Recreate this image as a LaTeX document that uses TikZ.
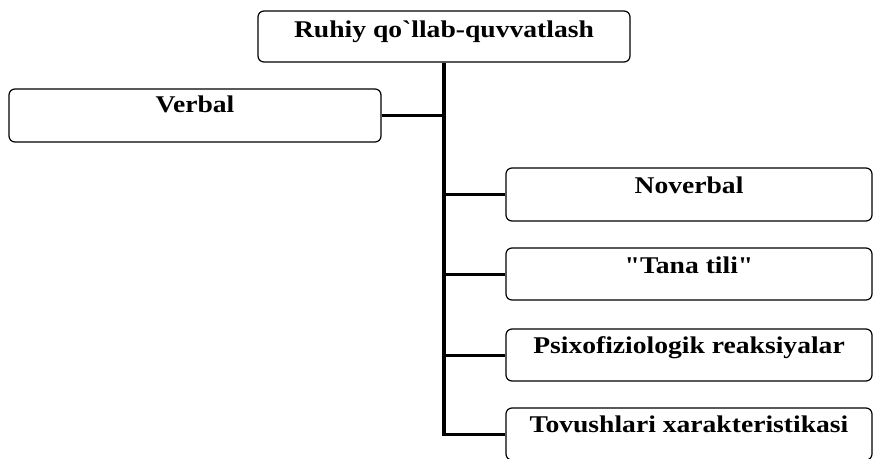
\documentclass[tikz,border=0pt]{standalone}
\usepackage{fontspec}
\newfontfamily\lbl{Liberation Serif}[Ligatures=TeXOff, FakeStretch=1.15]
\begin{document}
\begin{tikzpicture}[x=1pt,y=-1pt,
  box/.style={draw, line width=1.2pt, rounded corners=6pt, inner sep=0pt},
  txt/.style={font=\lbl\fontsize{24}{28}\selectfont\bfseries, anchor=base, inner sep=0pt},
  conn/.style={line width=3pt},
  trunkline/.style={line width=3.5pt}]
\useasboundingbox (0,0) rectangle (875,458);
\node[box, minimum width=372pt, minimum height=51pt] (top) at (444,36.5) {};
\node[box, minimum width=372pt, minimum height=53pt] (verbal) at (195,115.5) {};
\node[box, minimum width=366pt, minimum height=53pt] (nov) at (689,194.5) {};
\node[box, minimum width=366pt, minimum height=52pt] (tana) at (689,274) {};
\node[box, minimum width=366pt, minimum height=52pt] (psi) at (689,355) {};
\node[box, minimum width=366pt, minimum height=52pt] (tov) at (689,434) {};
\node[txt] (ttop) at (444,37) {Ruhiy qo`llab-quvvatlash};
\node[txt] (tverbal) at (195,112) {Verbal};
\node[txt] (tnov) at (689,193) {Noverbal};
\node[txt] (ttana) at (689,273) {"Tana tili"};
\node[txt] (tpsi) at (689,353) {Psixofiziologik reaksiyalar};
\node[txt] (ttov) at (689,432) {Tovushlari xarakteristikasi};
\draw[trunkline] (top.south) -- (top.south |- tov.west);
\draw[conn] (verbal.east) -- (verbal.east -| top.south);
\draw[conn] (nov.west -| top.south) -- (nov.west);
\draw[conn] (tana.west -| top.south) -- (tana.west);
\draw[conn] (psi.west -| top.south) -- (psi.west);
\draw[conn] ([xshift=-1.75pt]tov.west -| top.south) -- (tov.west);
\end{tikzpicture}
\end{document}
